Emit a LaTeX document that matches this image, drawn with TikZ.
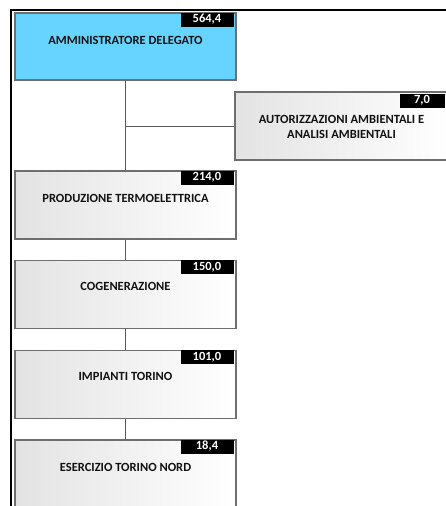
\documentclass[tikz,border=0pt]{standalone}
\usepackage{fontspec}
\newfontfamily\orgfont{Carlito}[BoldFont={Carlito Bold}]
\usetikzlibrary{positioning}
\definecolor{adblue}{HTML}{66D4FF}
\definecolor{boxline}{HTML}{6E6E6E}
\definecolor{inktext}{HTML}{111111}
\tikzset{
  unit/.style={rectangle, draw=boxline, line width=1.4pt, inner sep=0pt,
    minimum width=221pt, minimum height=68pt, left color=black!11, right color=white},
  head/.style={rectangle, draw=boxline, line width=1.4pt, inner sep=0pt,
    minimum width=221pt, minimum height=67pt, fill=adblue},
  badge/.style={anchor=north east, fill=black, text=white, inner sep=0pt,
    minimum width=53pt, minimum height=14pt, font=\orgfont\bfseries\fontsize{12.5}{13}\selectfont},
  title/.style={anchor=base, text=inktext, align=center,
    font=\orgfont\bfseries\fontsize{12.5}{15}\selectfont},
  link/.style={draw=black!65, line width=0.8pt}
}
\begin{document}
\begin{tikzpicture}[x=1pt, y=-1pt]
  \useasboundingbox (0,0) rectangle (446,506);
  % frame
  \draw[line width=2pt] (10.5,507) -- (10.5,9.5) -- (447,9.5);

  % boxes
  \node[head] (ad) at (125.5,46.5) {};
  \node[unit, minimum width=213pt] (aut) at (341.5,126) {};
  \node[unit] (prod) at (125.5,205) {};
  \node[unit] (cog) at (125.5,294.5) {};
  \node[unit] (imp) at (125.5,384.5) {};
  \node[unit] (ese) at (125.5,474) {};

  % links
  \draw[link] (ad.south) -- (prod.north);
  \draw[link] (ad.south |- aut.west) -- (aut.west);
  \draw[link] (prod.south) -- (cog.north);
  \draw[link] (cog.south) -- (imp.north);
  \draw[link] (imp.south) -- (ese.north);

  % values
  \node[badge] (adv) at ([xshift=-3pt]ad.north east) {564,4};
  \node[badge, minimum width=45pt] (autv) at ([xshift=-4pt, yshift=-2pt]aut.north east) {7,0};
  \node[badge] (prodv) at ([xshift=-3pt]prod.north east) {214,0};
  \node[badge] (cogv) at ([xshift=-3pt]cog.north east) {150,0};
  \node[badge] (impv) at ([xshift=-3pt]imp.north east) {101,0};
  \node[badge] (esev) at ([xshift=-3pt]ese.north east) {18,4};

  % names
  \node[title] (adt) at ([yshift=-32pt]ad.north) {AMMINISTRATORE DELEGATO};
  \node[title, anchor=north] (autt) at ([yshift=-20pt]aut.north) {AUTORIZZAZIONI AMBIENTALI E\\ANALISI AMBIENTALI};
  \node[title] (prodt) at ([yshift=-32pt]prod.north) {PRODUZIONE TERMOELETTRICA};
  \node[title] (cogt) at ([yshift=-31pt]cog.north) {COGENERAZIONE};
  \node[title] (impt) at ([yshift=-31pt]imp.north) {IMPIANTI TORINO};
  \node[title] (eset) at ([yshift=-32pt]ese.north) {ESERCIZIO TORINO NORD};
\end{tikzpicture}
\end{document}
